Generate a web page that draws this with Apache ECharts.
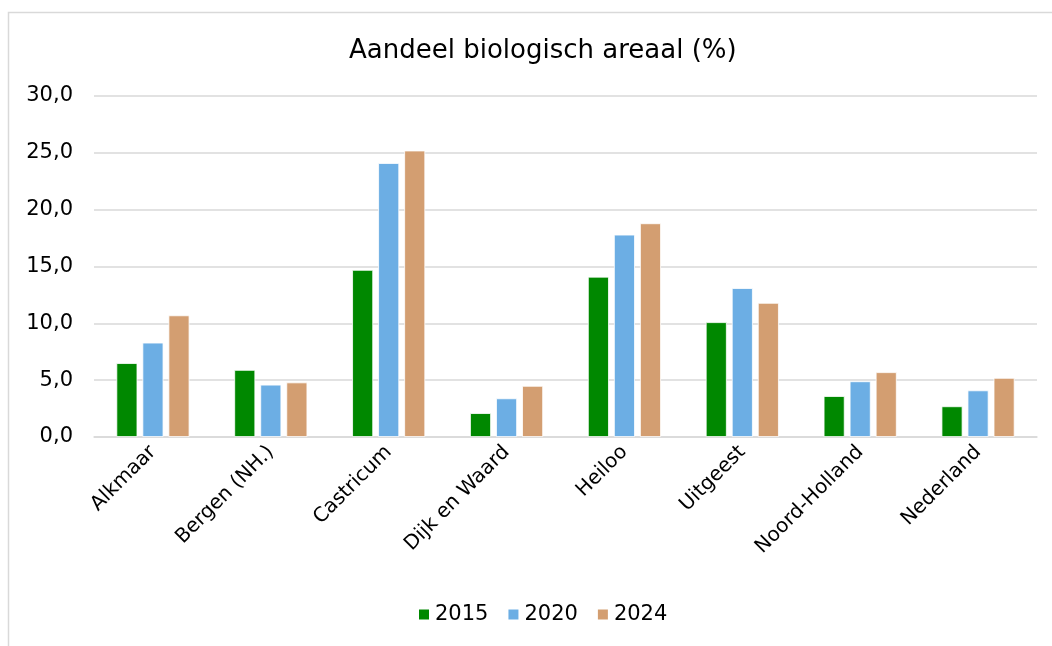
<!DOCTYPE html>
<html>
<head>
<meta charset="utf-8">
<script src="https://cdn.jsdelivr.net/npm/echarts@6/dist/echarts.min.js"></script>
<style>
	html, body { margin: 0; padding: 0; background: #fff; }
	#main_chart { width: 1052px; height: 646px; }
</style>
</head>
<body>
<div id="main_chart"></div>
<script>
var categories = ["Alkmaar", "Bergen (NH.)", "Castricum", "Dijk en Waard", "Heiloo", "Uitgeest", "Noord-Holland", "Nederland"];
var years = ["2015", "2020", "2024"];
var values2015 = [6.5, 5.9, 14.7, 2.1, 14.1, 10.1, 3.6, 2.7];
var values2020 = [8.3, 4.6, 24.1, 3.4, 17.8, 13.1, 4.9, 4.1];
var values2024 = [10.7, 4.8, 25.2, 4.5, 18.8, 11.8, 5.7, 5.2];
var colors = ["#008800", "#6caee4", "#d39e71"];

var fontName = "'DejaVu Sans', Verdana, sans-serif";

function makeSeries(name, data, color) {
	return {
		name: name,
		type: 'bar',
		data: data,
		barWidth: 21,
		barGap: '24%',
		itemStyle: {
			color: color,
			borderColor: '#ffffff',
			borderWidth: 0.8
		}
	};
}

var chart = echarts.init(document.getElementById('main_chart'), null, { renderer: 'canvas' });

var option = {
	backgroundColor: '#ffffff',
	animation: false,
	textStyle: { fontFamily: fontName },
	graphic: [{
		type: 'rect',
		silent: true,
		shape: { x: 8.5, y: 12.5, width: 1100, height: 700 },
		style: { fill: 'none', stroke: '#d9d9d9', lineWidth: 1.5 }
	}],
	title: {
		text: 'Aandeel biologisch areaal (%)',
		left: 344,
		top: 33,
		textStyle: { fontFamily: fontName, fontSize: 26, fontWeight: 'normal', color: '#000' }
	},
	legend: {
		data: years,
		bottom: 16,
		left: 412,
		itemWidth: 12,
		itemHeight: 12,
		itemGap: 18,
		icon: 'rect',
		textStyle: { fontFamily: fontName, fontSize: 21, color: '#000' }
	},
	grid: {
		left: 94,
		right: 15,
		top: 96,
		bottom: 209,
		containLabel: false
	},
	xAxis: {
		type: 'category',
		data: categories,
		axisLine: { lineStyle: { color: '#d9d9d9', width: 1.5 } },
		axisTick: { show: false },
		axisLabel: {
			rotate: 45,
			margin: 12,
			interval: 0,
			fontFamily: fontName,
			fontSize: 20,
			color: '#000'
		}
	},
	yAxis: {
		type: 'value',
		min: 0,
		max: 30,
		interval: 5,
		axisLine: { show: false },
		axisTick: { show: false },
		splitLine: { lineStyle: { color: '#d9d9d9', width: 1.5 } },
		axisLabel: {
			margin: 21,
			fontFamily: fontName,
			fontSize: 21,
			color: '#000',
			formatter: function(v) {
				return v.toFixed(1).replace('.', ',');
			}
		}
	},
	series: [
		makeSeries(years[0], values2015, colors[0]),
		makeSeries(years[1], values2020, colors[1]),
		makeSeries(years[2], values2024, colors[2])
	]
};

chart.setOption(option);
</script>
</body>
</html>
